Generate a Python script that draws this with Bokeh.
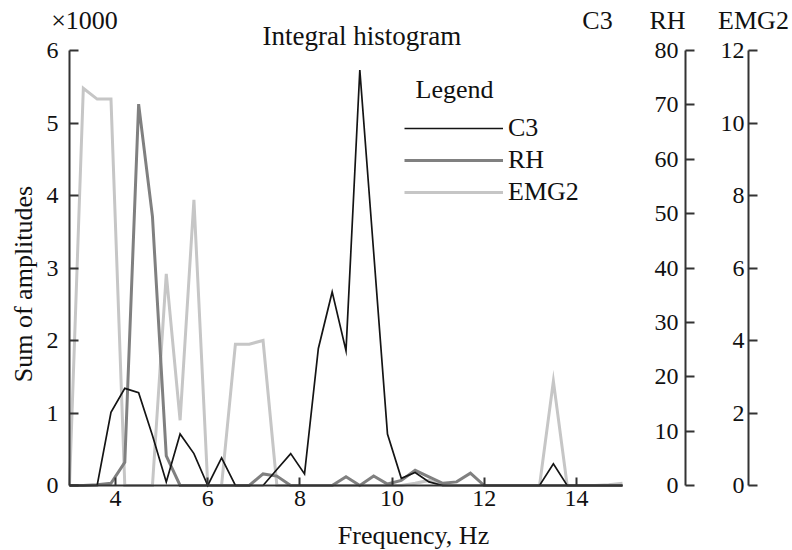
import math
from bokeh.plotting import figure
from bokeh.models import Range1d, FixedTicker, Label, Legend, LegendItem, LinearAxis
from bokeh.embed import file_html
from bokeh.resources import INLINE

FONT = "Liberation Serif"

# ---- data ----
freq = [3.0, 3.3, 3.6, 3.9, 4.2, 4.5, 4.8, 5.1, 5.4, 5.7, 6.0, 6.3, 6.6, 6.9,
        7.2, 7.5, 7.8, 8.1, 8.4, 8.7, 9.0, 9.3, 9.6, 9.9, 10.2, 10.5, 10.8,
        11.1, 11.4, 11.7, 12.0, 12.3, 12.6, 12.9, 13.2, 13.5, 13.8, 14.1,
        14.4, 14.7, 15.0]
c3 = [0, 0, 0, 1.01, 1.34, 1.28, 0.69, 0.05, 0.71, 0.44, 0, 0.38, 0, 0,
      0, 0.22, 0.44, 0.16, 1.89, 2.67, 1.86, 5.73, 3.22, 0.71, 0.10, 0.18, 0.05,
      0, 0, 0, 0, 0, 0, 0, 0, 0.30, 0, 0, 0, 0, 0]
rh = [0, 0, 0.01, 0.03, 0.32, 5.26, 3.71, 0.41, 0, 0, 0, 0, 0, 0,
      0.16, 0.13, 0, 0, 0, 0, 0.12, 0, 0.13, 0.02, 0.07, 0.21, 0.12,
      0.03, 0.05, 0.17, 0, 0, 0, 0, 0, 0, 0, 0, 0, 0, 0]
emg2 = [0, 5.48, 5.33, 5.33, 0, 0, 0, 2.92, 0.90, 3.94, 0, 0, 1.95, 1.95,
        2.0, 0, 0, 0, 0, 0, 0, 0, 0, 0, 0, 0.03, 0.07,
        0, 0, 0, 0, 0, 0, 0, 0, 1.44, 0, 0, 0, 0.01, 0.03]

x_ticks = [4, 6, 8, 10, 12, 14]
y_ticks = [0, 1, 2, 3, 4, 5, 6]
rh_ticks = [0, 10, 20, 30, 40, 50, 60, 70, 80]
emg2_ticks = [0, 2, 4, 6, 8, 10, 12]
series_names = ["C3", "RH", "EMG2"]
series_colors = ["#141414", "#808080", "#c6c6c6"]
series_widths = [1.7, 3.0, 3.0]

TXT = "26px"
TICK = "24px"
W, H = 792, 550

# pixel geometry of the plotting area (x: 3 -> 69px, 15 -> 622px; y: 0 -> 485px, 6 -> 50px)
PX_X = (622 - 69) / 12.0
PX_Y = (485 - 50) / 6.0
X0 = 3.0 - 69 / PX_X
Y_TOP = 485 / PX_Y


def px_x(px):
    return X0 + px / PX_X


def px_y(py):
    return Y_TOP - py / PX_Y


p = figure(width=W, height=H,
           x_range=Range1d(X0, X0 + W / PX_X),
           y_range=Range1d(Y_TOP - H / PX_Y, Y_TOP),
           output_backend="svg", toolbar_location=None, title=None,
           min_border_left=0, min_border_right=0, min_border_top=0, min_border_bottom=0)
p.grid.visible = False
p.outline_line_color = None

# extra ranges for the RH and EMG2 scales (0 at 485px, max at 50px)
rh_px = 435 / 80.0
emg_px = 435 / 12.0
p.extra_y_ranges = {
    "rh": Range1d(-(H - 485) / rh_px, 485 / rh_px),
    "emg": Range1d(-(H - 485) / emg_px, 485 / emg_px),
}


def style_axis(ax, tick_len, standoff):
    ax.major_tick_in = tick_len
    ax.major_tick_out = 0
    ax.minor_tick_in = 0
    ax.minor_tick_out = 0
    ax.major_label_standoff = standoff
    ax.major_label_text_font = FONT
    ax.major_label_text_font_size = TICK
    ax.major_label_text_color = "#111111"
    ax.axis_line_color = "#333333"
    ax.axis_line_width = 2
    ax.major_tick_line_color = "#333333"
    ax.major_tick_line_width = 2


xa = p.xaxis[0]
xa.ticker = FixedTicker(ticks=x_ticks)
xa.bounds = (3, 15)
xa.fixed_location = 0
style_axis(xa, 8, 5)

ya = p.yaxis[0]
ya.ticker = FixedTicker(ticks=y_ticks)
ya.bounds = (0, 6)
ya.fixed_location = 3.0
style_axis(ya, 9, 11)

ax_rh = LinearAxis(y_range_name="rh", ticker=FixedTicker(ticks=rh_ticks),
                   bounds=(0, 80), fixed_location=px_x(685))
style_axis(ax_rh, 9, 7)
p.add_layout(ax_rh, "left")

ax_emg = LinearAxis(y_range_name="emg", ticker=FixedTicker(ticks=emg2_ticks),
                    bounds=(0, 12), fixed_location=px_x(748))
style_axis(ax_emg, 9, 4)
p.add_layout(ax_emg, "left")

renderers = {}
for name, ys, col, lw in zip(series_names[::-1], [emg2, rh, c3],
                             series_colors[::-1], series_widths[::-1]):
    renderers[name] = p.line(freq, ys, line_color=col, line_width=lw, line_join="miter")

leg = Legend(items=[LegendItem(label=n, renderers=[renderers[n]]) for n in series_names],
             location=(404, H - 207), padding=0, margin=0, spacing=2,
             label_height=30, glyph_height=30, glyph_width=99, label_standoff=5,
             border_line_color=None, background_fill_alpha=0,
             label_text_font=FONT, label_text_font_size=TXT, label_text_color="#111111")
p.add_layout(leg)

SHIFT = 9  # empirical baseline correction (px)


def add_label(x_px, base_px, text, align="left", baseline="alphabetic", angle=0, size=TXT):
    p.add_layout(Label(x=px_x(x_px), y=px_y(base_px), text=text, text_align=align,
                       text_baseline=baseline, angle=angle, text_font=FONT,
                       text_font_size=size, text_color="#111111"))


add_label(84, 29.3 - SHIFT, "\u00d71000", align="center")
add_label(262, 44 - SHIFT, "Integral histogram", size="27px")
add_label(597, 29.3 - SHIFT, "C3", align="center")
add_label(667, 29.3 - SHIFT, "RH", align="center")
add_label(753, 29.3 - SHIFT, "EMG2", align="center")
add_label(415, 98 - SHIFT, "Legend")
add_label(413, 544 - SHIFT, "Frequency, Hz", align="center")
add_label(23, 283.5, "Sum of amplitudes", align="center", baseline="middle", angle=math.pi / 2)

open("out.html", "w").write(file_html(p, INLINE))
